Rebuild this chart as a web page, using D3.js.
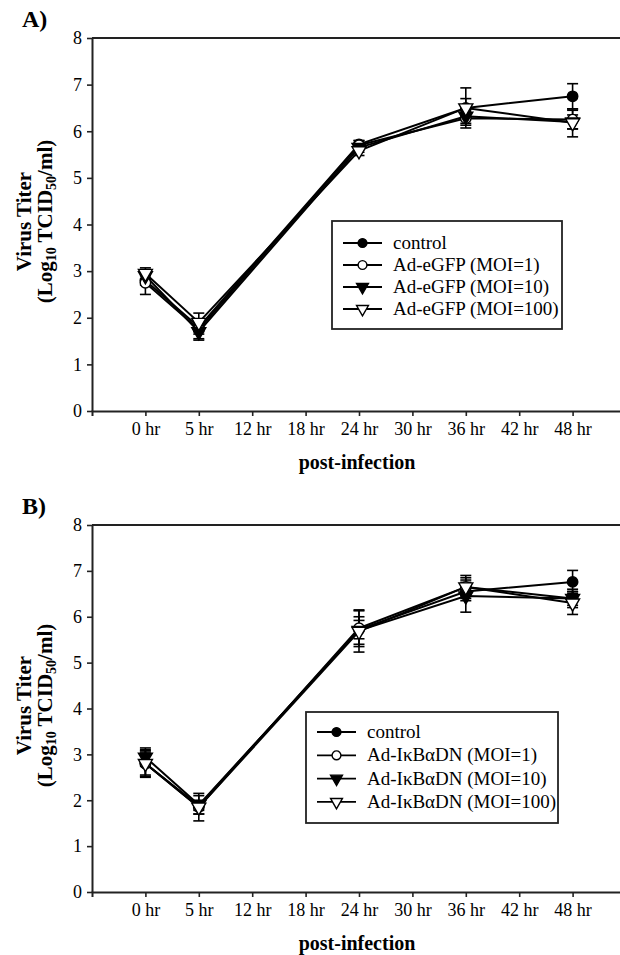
<!DOCTYPE html>
<html>
<head>
<meta charset="utf-8">
<script src="https://cdn.jsdelivr.net/npm/d3@7"></script>
<style>
  html, body { margin: 0; padding: 0; background: #fff; }
  svg { display: block; }
  text { font-family: "Liberation Serif", "Times New Roman", serif; fill: #000; }
</style>
</head>
<body>
<svg id="chart" width="620" height="955"></svg>
<script>
// ---- data ----
const tickLabels = ["0 hr", "5 hr", "12 hr", "18 hr", "24 hr", "30 hr", "36 hr", "42 hr", "48 hr"];
const sampleTimes = ["0 hr", "5 hr", "24 hr", "36 hr", "48 hr"];
const yTicks = [0, 1, 2, 3, 4, 5, 6, 7, 8];

const seriesNamesA = ["control", "Ad-eGFP (MOI=1)", "Ad-eGFP (MOI=10)", "Ad-eGFP (MOI=100)"];
const controlA = [2.80, 1.80, 5.72, 6.50, 6.75];
const controlErrA = [0.10, 0.15, 0.08, 0.20, 0.27];
const moi1A = [2.75, 1.75, 5.70, 6.28, 6.25];
const moi1ErrA = [0.25, 0.20, 0.10, 0.15, 0.20];
const moi10A = [2.90, 1.70, 5.65, 6.32, 6.20];
const moi10ErrA = [0.10, 0.18, 0.10, 0.15, 0.15];
const moi100A = [2.95, 1.90, 5.58, 6.50, 6.18];
const moi100ErrA = [0.12, 0.20, 0.10, 0.43, 0.30];

const seriesNamesB = ["control", "Ad-I\u03BAB\u03B1DN (MOI=1)", "Ad-I\u03BAB\u03B1DN (MOI=10)", "Ad-I\u03BAB\u03B1DN (MOI=100)"];
const controlB = [2.80, 1.88, 5.72, 6.55, 6.76];
const controlErrB = [0.28, 0.10, 0.20, 0.20, 0.25];
const moi1B = [2.80, 1.85, 5.75, 6.65, 6.40];
const moi1ErrB = [0.30, 0.15, 0.40, 0.25, 0.15];
const moi10B = [2.94, 1.90, 5.70, 6.45, 6.40];
const moi10ErrB = [0.20, 0.20, 0.30, 0.35, 0.20];
const moi100B = [2.80, 1.85, 5.68, 6.65, 6.30];
const moi100ErrB = [0.25, 0.30, 0.45, 0.20, 0.25];

const markerTypes = ["filledCircle", "openCircle", "filledTri", "openTri"];

// ---- drawing ----
const svg = d3.select("#chart");

function drawMarker(sel, type, scale) {
  const r = 5.2 * scale;
  if (type === "filledCircle" || type === "openCircle") {
    sel.append("circle").attr("r", r)
      .attr("fill", type === "filledCircle" ? "#000" : "#fff")
      .attr("stroke", "#000").attr("stroke-width", 1.4);
  } else {
    sel.append("path")
      .attr("d", d3.symbol().type(d3.symbolTriangle).size(85 * scale * scale)())
      .attr("transform", "rotate(180)")
      .attr("fill", type === "filledTri" ? "#000" : "#fff")
      .attr("stroke", "#000").attr("stroke-width", 1.4);
  }
}

function drawPanel(cfg) {
  const g = svg.append("g");
  const x = d3.scaleLinear().domain([-1, 9]).range([92, 626]);
  const y = d3.scaleLinear().domain([0, 8]).range([cfg.bottom, cfg.top]);
  const xi = t => tickLabels.indexOf(t);

  // panel letter
  g.append("text").attr("x", 22).attr("y", cfg.top - 11)
    .attr("font-size", 24).attr("font-weight", "bold").text(cfg.letter);

  // top frame line
  g.append("line").attr("x1", 92).attr("x2", 626)
    .attr("y1", cfg.top).attr("y2", cfg.top)
    .attr("stroke", "#222").attr("stroke-width", 2);

  // axes
  const xAxis = d3.axisBottom(x).tickValues(d3.range(tickLabels.length))
    .tickFormat(i => tickLabels[i]).tickSizeInner(5).tickSizeOuter(5).tickPadding(6);
  const gx = g.append("g").attr("transform", `translate(0,${cfg.bottom})`).call(xAxis);
  gx.select(".domain").attr("stroke", "#222").attr("stroke-width", 2);
  gx.selectAll(".tick line").attr("stroke", "#222").attr("stroke-width", 1.6);
  gx.selectAll(".tick text").attr("font-size", 18).attr("font-family", "Liberation Serif, serif").attr("fill", "#000");

  const yAxis = d3.axisLeft(y).tickValues(yTicks).tickSizeInner(5).tickSizeOuter(0).tickPadding(5);
  const gy = g.append("g").attr("transform", "translate(92,0)").call(yAxis);
  gy.select(".domain").attr("stroke", "#222").attr("stroke-width", 2);
  gy.selectAll(".tick line").attr("stroke", "#222").attr("stroke-width", 1.6);
  gy.selectAll(".tick text").attr("font-size", 18).attr("font-family", "Liberation Serif, serif").attr("fill", "#000");

  // axis titles
  g.append("text").attr("x", 357).attr("y", cfg.bottom + 58)
    .attr("text-anchor", "middle").attr("font-size", 20).attr("font-weight", "bold")
    .text("post-infection");

  const cy = (cfg.top + cfg.bottom) / 2 - 3;
  const yl = g.append("text").attr("transform", `translate(31,${cy}) rotate(-90)`)
    .attr("text-anchor", "middle").attr("font-size", 21).attr("font-weight", "bold");
  yl.text("Virus Titer");
  const yl2 = g.append("text").attr("transform", `translate(52,${cy}) rotate(-90)`)
    .attr("text-anchor", "middle").attr("font-size", 21).attr("font-weight", "bold");
  yl2.append("tspan").text("(Log");
  yl2.append("tspan").attr("font-size", 14).attr("dy", 4).text("10");
  yl2.append("tspan").attr("dy", -4).text(" TCID");
  yl2.append("tspan").attr("font-size", 14).attr("dy", 4).text("50");
  yl2.append("tspan").attr("dy", -4).text("/ml)");

  // error bars
  const capW = 5.5;
  cfg.series.forEach(s => {
    const eg = g.append("g").attr("stroke", "#000").attr("stroke-width", 1.6);
    sampleTimes.forEach((t, i) => {
      const cx = x(xi(t)), v = s.values[i], e = s.errs[i];
      eg.append("line").attr("x1", cx).attr("x2", cx).attr("y1", y(v - e)).attr("y2", y(v + e));
      eg.append("line").attr("x1", cx - capW).attr("x2", cx + capW).attr("y1", y(v + e)).attr("y2", y(v + e));
      eg.append("line").attr("x1", cx - capW).attr("x2", cx + capW).attr("y1", y(v - e)).attr("y2", y(v - e));
    });
  });

  // lines
  const line = d3.line().x((d, i) => x(xi(sampleTimes[i]))).y(d => y(d));
  cfg.series.forEach(s => {
    g.append("path").datum(s.values).attr("d", line)
      .attr("fill", "none").attr("stroke", "#000").attr("stroke-width", 2);
  });

  // markers
  cfg.series.forEach((s, k) => {
    sampleTimes.forEach((t, i) => {
      const m = g.append("g").attr("transform", `translate(${x(xi(t))},${y(s.values[i])})`);
      drawMarker(m, markerTypes[k], 1);
    });
  });

  // legend
  const L = cfg.legend;
  g.append("rect").attr("x", L.x).attr("y", L.y).attr("width", L.w).attr("height", L.h)
    .attr("fill", "#fff").attr("stroke", "#222").attr("stroke-width", 1.8);
  cfg.series.forEach((s, k) => {
    const ry = L.y + L.first + k * L.step;
    g.append("line").attr("x1", L.x + L.lx).attr("x2", L.x + L.lx + 39)
      .attr("y1", ry).attr("y2", ry).attr("stroke", "#000").attr("stroke-width", 1.8);
    const m = g.append("g").attr("transform", `translate(${L.x + L.lx + 19.5},${ry})`);
    drawMarker(m, markerTypes[k], 0.85);
    g.append("text").attr("x", L.x + L.lx + 50).attr("y", ry + 6)
      .attr("font-size", 19).text(s.name);
  });
}

function makeSeries(names, vals, errs) {
  return names.map((n, k) => ({ name: n, values: vals[k], errs: errs[k] }));
}

drawPanel({
  letter: "A)", top: 38, bottom: 411,
  series: makeSeries(seriesNamesA, [controlA, moi1A, moi10A, moi100A],
                     [controlErrA, moi1ErrA, moi10ErrA, moi100ErrA]),
  legend: { x: 332, y: 221, w: 230, h: 108, first: 22, step: 22, lx: 11 }
});

drawPanel({
  letter: "B)", top: 525, bottom: 892,
  series: makeSeries(seriesNamesB, [controlB, moi1B, moi10B, moi100B],
                     [controlErrB, moi1ErrB, moi10ErrB, moi100ErrB]),
  legend: { x: 306, y: 712, w: 252, h: 111, first: 20, step: 23.3, lx: 11 }
});
</script>
</body>
</html>
